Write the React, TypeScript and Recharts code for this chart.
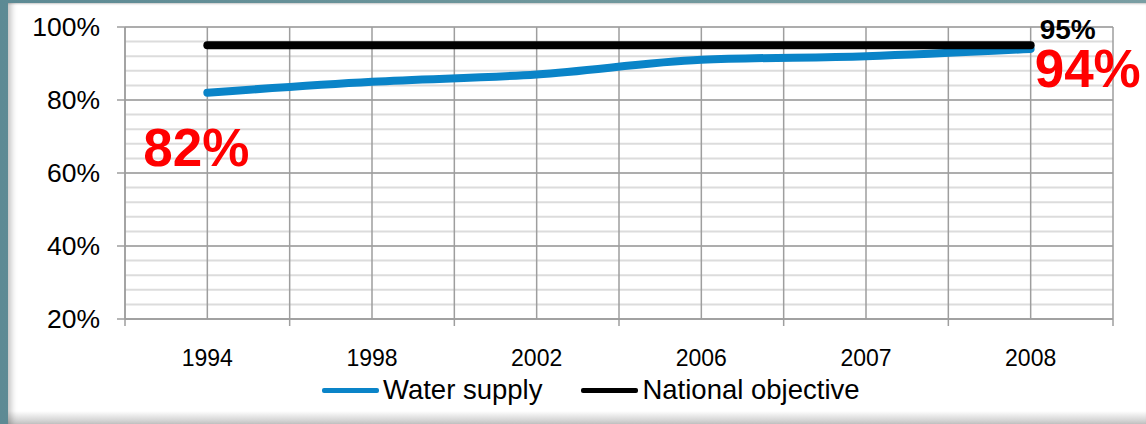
import React from 'react';
import { LineChart, Line, XAxis, YAxis, CartesianGrid, LabelList } from 'recharts';

const years = ['1994', '1998', '2002', '2006', '2007', '2008'];
const waterSupply = [82, 85, 87, 91, 92, 94];
const nationalObjective = [95, 95, 95, 95, 95, 95];
const yTicks = [20, 40, 60, 80, 100];

const series = [
  { key: 'water', name: 'Water supply', color: '#0a84c8' },
  { key: 'objective', name: 'National objective', color: '#000000' },
];

const data = years.map((year, i) => ({
  year,
  water: waterSupply[i],
  objective: nationalObjective[i],
}));

const W = 1146;
const H = 424;
const MARGIN = { top: 27, right: 33, left: 45, bottom: 65 };
const Y_AXIS_W = 80;
const X_AXIS_H = 40;
const PLOT_W = W - MARGIN.left - Y_AXIS_W - MARGIN.right;
const BAND = PLOT_W / years.length;
const FONT = '"Liberation Sans", Arial, sans-serif';
const GRID = '#9e9e9e';

const XTick = (props: any) => {
  const { x, y, payload, index } = props;
  const axisY = y - 33;
  return (
    <g>
      <line x1={x - BAND / 2} x2={x - BAND / 2} y1={axisY} y2={axisY + 7} stroke={GRID} strokeWidth={1.5} />
      {index === years.length - 1 && (
        <line x1={x + BAND / 2} x2={x + BAND / 2} y1={axisY} y2={axisY + 7} stroke={GRID} strokeWidth={1.5} />
      )}
      <text x={x} y={y - 2} dy="0.71em" textAnchor="middle" fontSize={23} fontFamily={FONT} fill="#000">
        {payload.value}
      </text>
    </g>
  );
};

// value labels at the ends of the lines
const waterLabel = (props: any) => {
  const { x, y, value, index } = props;
  if (index === 0) {
    return (
      <text x={x - 11} y={y + 55} textAnchor="middle" dominantBaseline="central"
        fontSize={53} fontWeight="bold" fontFamily={FONT} fill="#ff0000">
        {value}%
      </text>
    );
  }
  if (index === years.length - 1) {
    return (
      <text x={x + 4} y={y + 20} textAnchor="start" dominantBaseline="central"
        fontSize={53} fontWeight="bold" fontFamily={FONT} fill="#ff0000">
        {value}%
      </text>
    );
  }
  return null;
};

const objectiveLabel = (props: any) => {
  const { x, y, value, index } = props;
  if (index !== years.length - 1) return null;
  return (
    <text x={x + 9} y={y - 16} textAnchor="start" dominantBaseline="central"
      fontSize={28} fontWeight="bold" fontFamily={FONT} fill="#000">
      {value}%
    </text>
  );
};

export default function App() {
  return (
    <div style={{ position: 'absolute', left: 0, top: 0, width: W, height: H, overflow: 'hidden',
      background: 'linear-gradient(90deg, #5d8a94 0%, #6f979c 50%, #7a9ea3 100%)' }}>
      <div style={{
        position: 'absolute', left: 8, top: 3, width: W - 8, height: H - 3,
        background: 'linear-gradient(180deg, #ffffff 0px, #ffffff 408px, #c4c4c4 421px)',
        boxShadow: 'inset 7px 0 6px -4px rgba(0,0,0,0.25), inset 0 2px 2px -1px rgba(0,0,0,0.2)',
      }} />
      <div style={{ position: 'absolute', left: 0, top: 0 }}>
        <LineChart width={W} height={H} data={data} margin={MARGIN}>
          <CartesianGrid
            vertical={false}
            stroke="#dcdcdc"
            strokeWidth={2}
            horizontalCoordinatesGenerator={({ offset }: any) =>
              Array.from({ length: 21 }, (_, i) => offset.top + (i * offset.height) / 20)
            }
          />
          <CartesianGrid
            stroke={GRID}
            strokeWidth={1.5}
            verticalCoordinatesGenerator={({ offset }: any) =>
              Array.from({ length: years.length * 2 + 1 }, (_, i) => offset.left + (i * offset.width) / (years.length * 2))
            }
          />
          <XAxis
            dataKey="year"
            height={X_AXIS_H}
            padding={{ left: BAND / 2, right: BAND / 2 }}
            axisLine={{ stroke: GRID, strokeWidth: 1.5 }}
            tickLine={false}
            tickSize={7}
            tickMargin={26}
            tick={<XTick />}
            interval={0}
          />
          <YAxis
            width={Y_AXIS_W}
            domain={[20, 100]}
            ticks={yTicks}
            tickFormatter={(v) => `${v}%`}
            axisLine={{ stroke: GRID, strokeWidth: 1.5 }}
            tickLine={{ stroke: GRID, strokeWidth: 1.5 }}
            tickSize={8}
            tickMargin={17}
            tick={{ fontSize: 26.5, fontFamily: FONT, fill: '#000' }}
            interval={0}
          />
          <Line
            dataKey="water"
            name={series[0].name}
            type="monotone"
            stroke={series[0].color}
            strokeWidth={8}
            strokeLinecap="round"
            dot={false}
            isAnimationActive={false}
          >
            <LabelList dataKey="water" content={waterLabel} />
          </Line>
          <Line
            dataKey="objective"
            name={series[1].name}
            type="linear"
            stroke={series[1].color}
            strokeWidth={8}
            strokeLinecap="round"
            dot={false}
            isAnimationActive={false}
          >
            <LabelList dataKey="objective" content={objectiveLabel} />
          </Line>
        </LineChart>
      </div>
      {/* legend */}
      <div style={{ position: 'absolute', left: 322, top: 374, display: 'flex', alignItems: 'center',
        fontFamily: FONT, fontSize: 27.5, color: '#000', whiteSpace: 'nowrap' }}>
        {series.map((s, i) => (
          <div key={s.key} style={{ display: 'flex', alignItems: 'center', marginRight: i === 0 ? 39 : 0 }}>
            <div style={{ width: 57, height: 5, background: s.color, borderRadius: 2, marginRight: 4 }} />
            <span>{s.name}</span>
          </div>
        ))}
      </div>
    </div>
  );
}
